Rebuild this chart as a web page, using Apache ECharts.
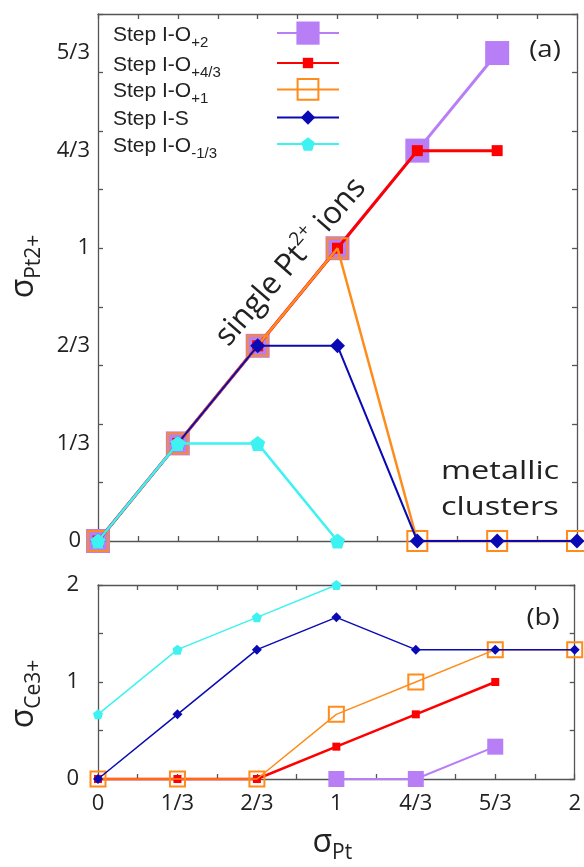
<!DOCTYPE html>
<html><head><meta charset="utf-8">
<script src="https://cdn.jsdelivr.net/npm/echarts@6/dist/echarts.min.js"></script>
<style>html,body{margin:0;padding:0;background:#fff}#c{width:584px;height:867px}</style>
</head><body><div id="c"></div>
<script>
// ---------- data ----------
const xVals = [0, 1/3, 2/3, 1, 4/3, 5/3, 2];
const xTickLabels = ['0', '1/3', '2/3', '1', '4/3', '5/3', '2'];
const yTickValuesA = [0, 1/3, 2/3, 1, 4/3, 5/3];
const yTickLabelsA = ['{z|0}', '1/3', '2/3', '1', '4/3', '5/3'];
const yTickValuesB = [0, 1, 2];
const yTickLabelsB = ['0', '1', '2'];
const xMinorTicks = [0, 1/6, 2/6, 3/6, 4/6, 5/6, 1, 7/6, 8/6, 9/6, 10/6, 11/6, 2];
const yMinorTicksA = [0, 0.2, 0.4, 0.6, 0.8, 1.0, 1.2, 1.4, 1.6, 1.8];
const yMinorTicksB = [0, 0.5, 1, 1.5, 2];

const seriesNames = ['Step I-O+2', 'Step I-O+4/3', 'Step I-O+1', 'Step I-S', 'Step I-O-1/3'];
const legendMain = ['Step I-O', 'Step I-O', 'Step I-O', 'Step I-S', 'Step I-O'];
const legendSub = ['+2', '+4/3', '+1', '', '-1/3'];

// panel (a): sigma Pt2+
const pt2_O2   = [0, 1/3, 2/3, 1, 4/3, 5/3, null];
const pt2_O43  = [0, 1/3, 2/3, 1, 4/3, 4/3, null];
const pt2_O1   = [0, 1/3, 2/3, 1, 0, 0, 0];
const pt2_S    = [0, 1/3, 2/3, 2/3, 0, 0, 0];
const pt2_Om13 = [0, 1/3, 1/3, 0, null, null, null];

// panel (b): sigma Ce3+
const ce3_O2   = [null, null, null, 0, 0, 1/3, null];
const ce3_O43  = [0, 0, 0, 1/3, 2/3, 1, null];
const ce3_O1   = [0, 0, 0, 2/3, 1, 4/3, 4/3];
const ce3_S    = [0, 2/3, 4/3, 5/3, 4/3, 4/3, 4/3];
const ce3_Om13 = [2/3, 4/3, 5/3, 2, null, null, null];

// ---------- styling ----------
const colors = ['#b77ef6', '#ff0000', '#ff8c1a', '#0a0ab4', '#3ef2f2'];
const pentagon = 'path://M0,-10L9.51,-3.09L5.88,8.09L-5.88,8.09L-9.51,-3.09Z';
const symbols = ['rect', 'rect', 'rect', 'diamond', pentagon];
const hollow = [false, false, true, false, false];
const symSizeA = [24, 11, 20, 15, 15];
const symSizeB = [16, 8, 15, 10, 10];
const lineWA = [3, 3, 2.5, 2, 2.5];
const lineWB = [2, 2.5, 1.5, 1.5, 1.5];
const axisColor = '#555';
const labelFont = 'Open Sans';

function pairs(ys) {
  const out = [];
  ys.forEach((y, i) => { if (y !== null) out.push([xVals[i], y]); });
  return out;
}
function mkSeries(i, ys, xi, yi, sizes, widths) {
  return {
    type: 'line', name: seriesNames[i], xAxisIndex: xi, yAxisIndex: yi,
    data: pairs(ys), symbol: symbols[i], symbolSize: sizes[i],
    showAllSymbol: true, clip: false, animation: false, z: 2 + i,
    lineStyle: { color: colors[i], width: widths[i] },
    itemStyle: hollow[i]
      ? { color: 'rgba(0,0,0,0)', borderColor: colors[i], borderWidth: 2 }
      : { color: colors[i] },
    emphasis: { disabled: true }
  };
}
function lookup(vals, labels) {
  return v => { for (let k = 0; k < vals.length; k++) if (Math.abs(vals[k] - v) < 1e-6) return labels[k]; return ''; };
}
const lineStyleAx = { color: axisColor, width: 1.3 };
function xAx(grid, pos, labels) {
  return {
    type: 'value', gridIndex: grid, position: pos, min: 0, max: 2,
    axisLine: { show: true, onZero: false, lineStyle: lineStyleAx },
    axisTick: { show: true, inside: true, length: 5, customValues: xMinorTicks, lineStyle: lineStyleAx },
    axisLabel: labels ? {
      show: true, customValues: xVals, formatter: lookup(xVals, xTickLabels),
      margin: 14, fontFamily: labelFont, fontSize: 22, color: '#222'
    } : { show: false },
    splitLine: { show: false }
  };
}
function yAx(grid, pos, max, ticks, vals, labels, margin) {
  return {
    type: 'value', gridIndex: grid, position: pos, min: 0, max: max,
    axisLine: { show: true, onZero: false, lineStyle: lineStyleAx },
    axisTick: { show: true, inside: true, length: 5, customValues: ticks, lineStyle: lineStyleAx },
    axisLabel: vals ? {
      show: true, customValues: vals, formatter: lookup(vals, labels),
      margin: margin, fontFamily: labelFont, fontSize: 22, color: '#222',
      rich: { z: { fontFamily: labelFont, fontSize: 22, color: '#222', padding: [0, 9, 0, 0] } }
    } : { show: false },
    splitLine: { show: false }
  };
}
const nameRich = {
  s: { fontFamily: labelFont, fontSize: 32, lineHeight: 42, color: '#222' },
  p: { fontFamily: labelFont, fontSize: 21, lineHeight: 21, verticalAlign: 'bottom', color: '#222' }
};

const xAxes = [xAx(0, 'bottom', false), xAx(0, 'top', false), xAx(1, 'bottom', true), xAx(1, 'top', false)];
xAxes[2].name = '{s|σ}{p|Pt}';
xAxes[2].nameLocation = 'middle';
xAxes[2].nameGap = 43;
xAxes[2].nameTextStyle = { rich: nameRich, padding: [0, 8, 0, 0] };

const yAxes = [
  yAx(0, 'left', 1.8, yMinorTicksA, yTickValuesA, yTickLabelsA, 8),
  yAx(0, 'right', 1.8, yMinorTicksA, null),
  yAx(1, 'left', 2, yMinorTicksB, yTickValuesB, yTickLabelsB, 19),
  yAx(1, 'right', 2, yMinorTicksB, null)
];
yAxes[0].name = '{s|σ}{p|Pt2+}';
yAxes[0].nameLocation = 'middle';
yAxes[0].nameRotate = 90;
yAxes[0].nameGap = 53;
yAxes[0].nameTextStyle = { rich: nameRich, padding: [0, 0, 0, 22] };
yAxes[2].name = '{s|σ}{p|Ce3+}';
yAxes[2].nameLocation = 'middle';
yAxes[2].nameRotate = 90;
yAxes[2].nameGap = 53;
yAxes[2].nameTextStyle = { rich: nameRich, padding: [0, 24, 0, 0] };

const series = [
  mkSeries(0, pt2_O2, 0, 0, symSizeA, lineWA),
  mkSeries(1, pt2_O43, 0, 0, symSizeA, lineWA),
  mkSeries(2, pt2_O1, 0, 0, symSizeA, lineWA),
  mkSeries(3, pt2_S, 0, 0, symSizeA, lineWA),
  mkSeries(4, pt2_Om13, 0, 0, symSizeA, lineWA),
  mkSeries(0, ce3_O2, 2, 2, symSizeB, lineWB),
  mkSeries(1, ce3_O43, 2, 2, symSizeB, lineWB),
  mkSeries(2, ce3_O1, 2, 2, symSizeB, lineWB),
  mkSeries(3, ce3_S, 2, 2, symSizeB, lineWB),
  mkSeries(4, ce3_Om13, 2, 2, symSizeB, lineWB)
];

const legendRows = [36, 61, 91, 118, 144];
const legendIconH = [29, 13, 26, 18, 17];
const legends = seriesNames.map((n, i) => ({
  data: [n], left: 113, top: legendRows[i] - legendIconH[i] / 2,
  orient: 'horizontal', align: 'right', padding: 0,
  itemWidth: 62, itemHeight: legendIconH[i], selectedMode: false,
  formatter: () => legendSub[i] ? '{a|' + legendMain[i] + '}{s|' + legendSub[i] + '}' : '{a|' + legendMain[i] + '}',
  textStyle: {
    width: 159, color: '#222', padding: [4, 0, 0, 0],
    rich: {
      a: { fontFamily: 'Liberation Sans', fontSize: 21, lineHeight: 30, align: 'left', color: '#222' },
      s: { fontFamily: 'Liberation Sans', fontSize: 15, lineHeight: 15, verticalAlign: 'bottom', align: 'left', color: '#222' }
    }
  }
}));

const option = {
  backgroundColor: '#fff',
  animation: false,
  grid: [
    { left: 97, right: 7, top: 14, height: 527 },
    { left: 97, right: 7, top: 585, height: 194 }
  ],
  xAxis: xAxes,
  yAxis: yAxes,
  legend: legends,
  series: series,
  graphic: [
    { type: 'text', x: 291, y: 262, rotation: 49 * Math.PI / 180, z: 100,
      style: { text: '{n|single Pt}{p|2+}{n| ions}', align: 'center', verticalAlign: 'middle',
        rich: { n: { fontFamily: labelFont, fontSize: 31, lineHeight: 40, verticalAlign: 'middle', fill: '#222' },
                p: { fontFamily: labelFont, fontSize: 19, lineHeight: 40, verticalAlign: 'top', fill: '#222' } } } },
    { type: 'text', x: 441, y: 454, scaleX: 1.25, z: 100,
      style: { text: 'metallic\nclusters', fontFamily: labelFont, fontSize: 26, lineHeight: 36, fill: '#222', align: 'left', verticalAlign: 'top' } },
    { type: 'text', x: 545, y: 50, scaleX: 1.15, z: 100,
      style: { text: '(a)', fontFamily: labelFont, fontSize: 24, fill: '#222', align: 'center', verticalAlign: 'middle' } },
    { type: 'text', x: 543, y: 618, scaleX: 1.15, z: 100,
      style: { text: '(b)', fontFamily: labelFont, fontSize: 24, fill: '#222', align: 'center', verticalAlign: 'middle' } }
  ]
};
const chart = echarts.init(document.getElementById('c'), null, { renderer: 'canvas' });
chart.setOption(option);
</script>
</body></html>
